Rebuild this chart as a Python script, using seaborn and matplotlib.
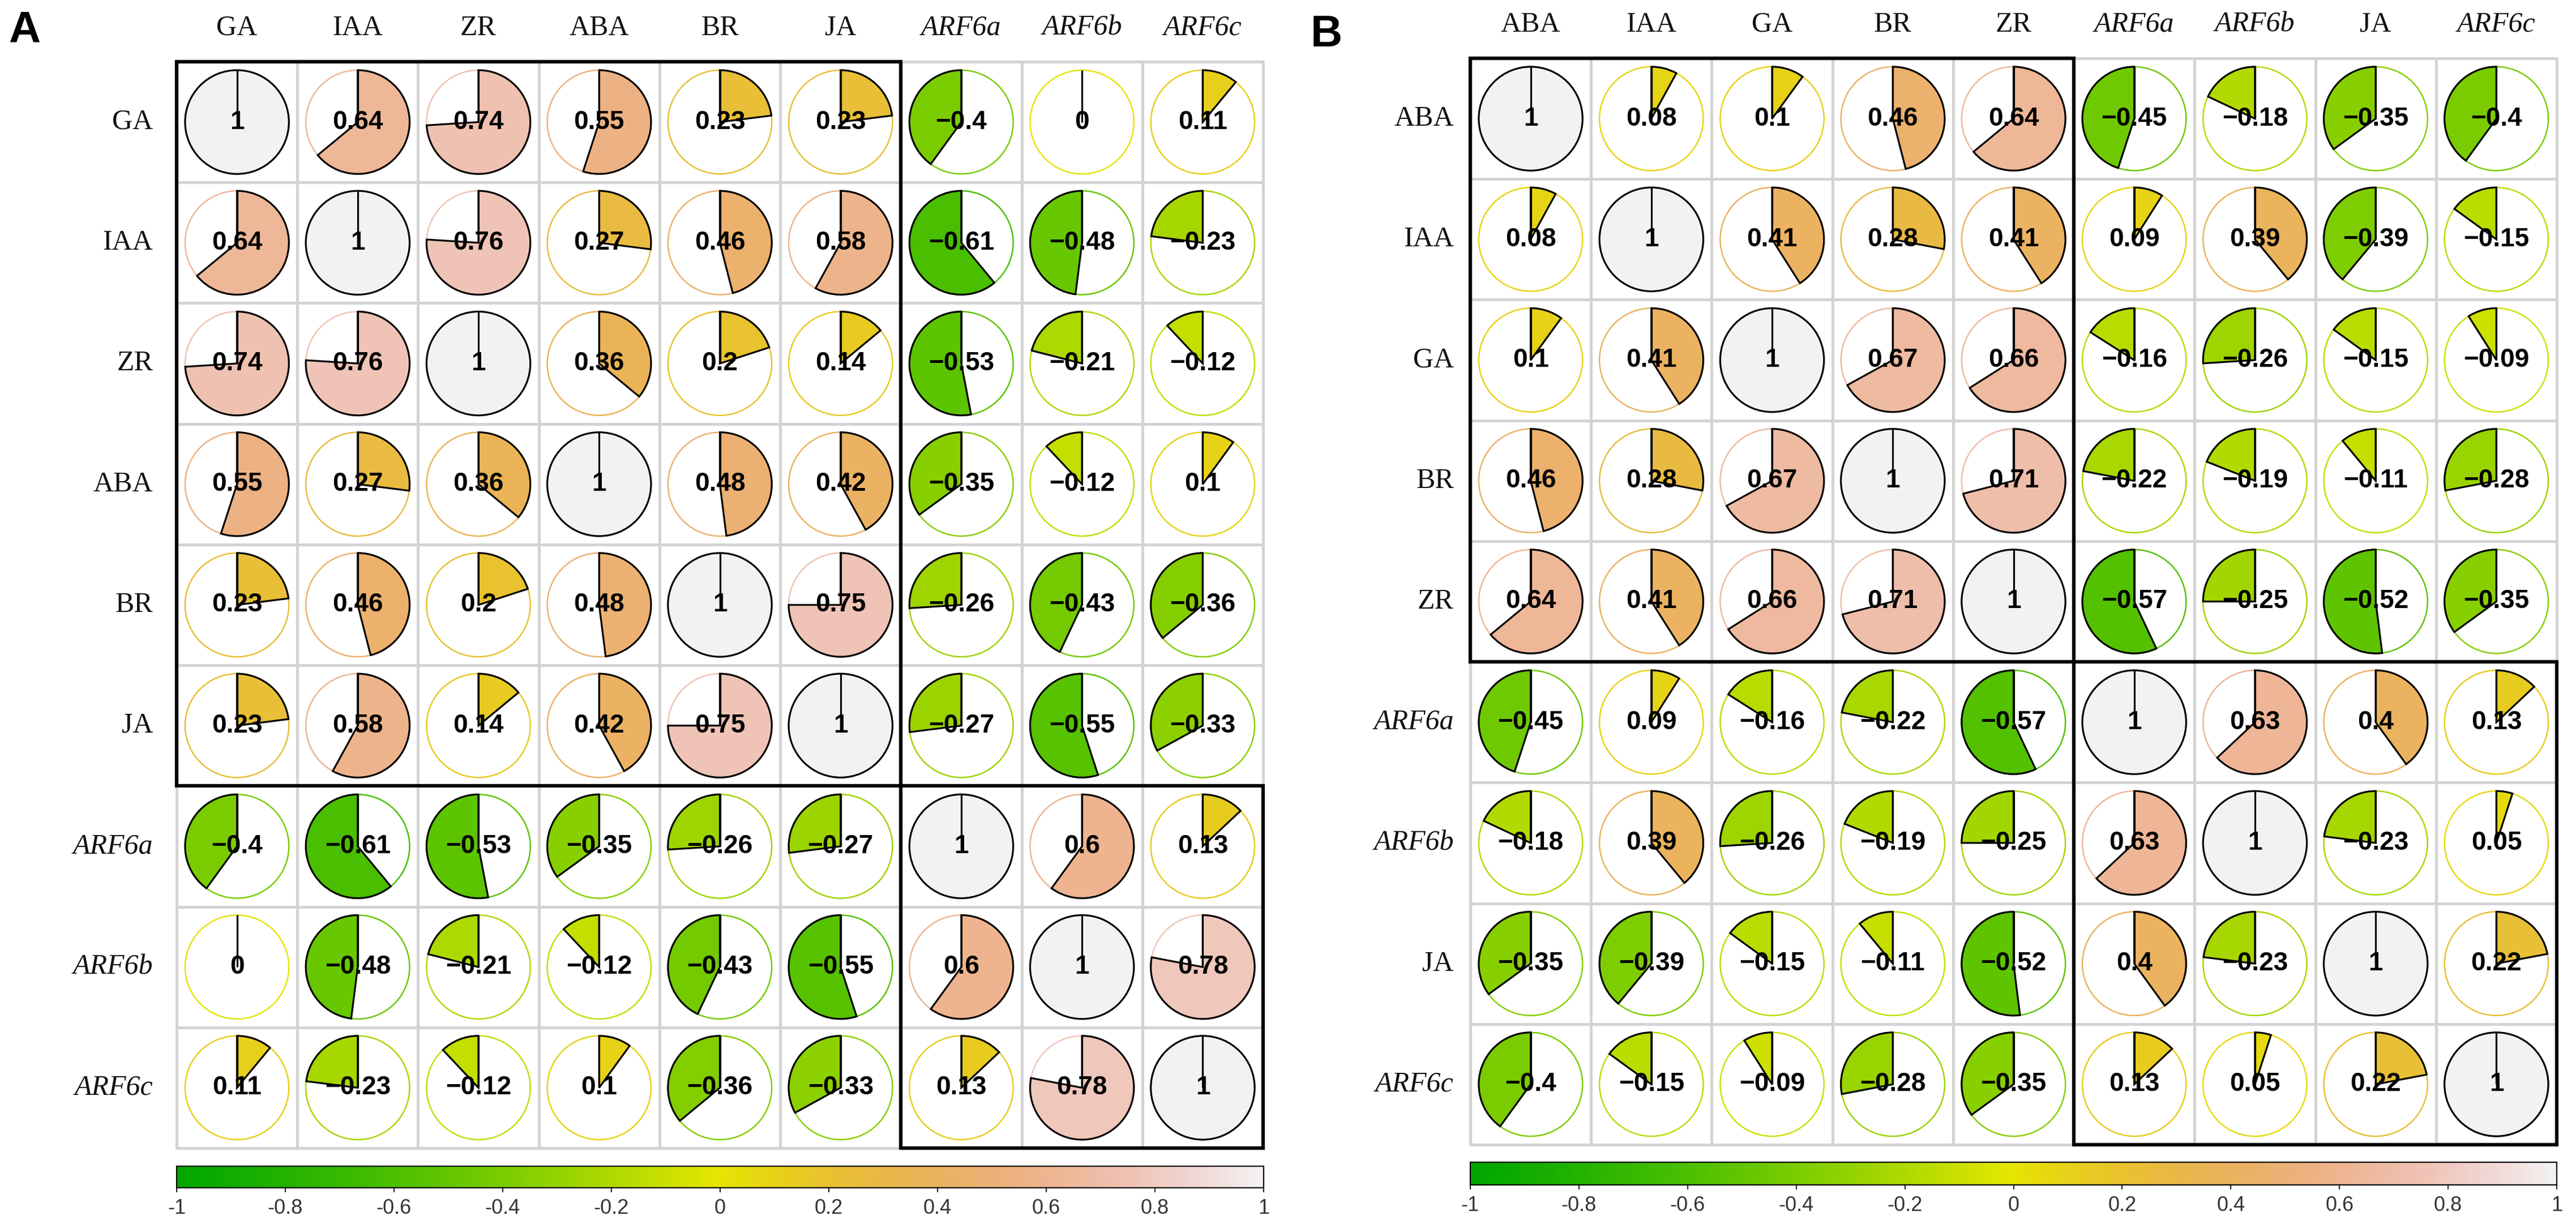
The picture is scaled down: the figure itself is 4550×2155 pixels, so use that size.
import numpy as np
import pandas as pd
import matplotlib
matplotlib.use('Agg')
import matplotlib.pyplot as plt
import seaborn as sns
from matplotlib.colors import ListedColormap, LinearSegmentedColormap, hsv_to_rgb
from matplotlib.patches import Wedge, Circle, Rectangle
import matplotlib.cm as cm

# panel A
labels_a = ['GA', 'IAA', 'ZR', 'ABA', 'BR', 'JA', 'ARF6a', 'ARF6b', 'ARF6c']
corr_a = [
    [1, 0.64, 0.74, 0.55, 0.23, 0.23, -0.4, 0, 0.11],
    [0.64, 1, 0.76, 0.27, 0.46, 0.58, -0.61, -0.48, -0.23],
    [0.74, 0.76, 1, 0.36, 0.2, 0.14, -0.53, -0.21, -0.12],
    [0.55, 0.27, 0.36, 1, 0.48, 0.42, -0.35, -0.12, 0.1],
    [0.23, 0.46, 0.2, 0.48, 1, 0.75, -0.26, -0.43, -0.36],
    [0.23, 0.58, 0.14, 0.42, 0.75, 1, -0.27, -0.55, -0.33],
    [-0.4, -0.61, -0.53, -0.35, -0.26, -0.27, 1, 0.6, 0.13],
    [0, -0.48, -0.21, -0.12, -0.43, -0.55, 0.6, 1, 0.78],
    [0.11, -0.23, -0.12, 0.1, -0.36, -0.33, 0.13, 0.78, 1],
]
clusters_a = [(0, 6), (6, 9)]

# panel B
labels_b = ['ABA', 'IAA', 'GA', 'BR', 'ZR', 'ARF6a', 'ARF6b', 'JA', 'ARF6c']
corr_b = [
    [1, 0.08, 0.1, 0.46, 0.64, -0.45, -0.18, -0.35, -0.4],
    [0.08, 1, 0.41, 0.28, 0.41, 0.09, 0.39, -0.39, -0.15],
    [0.1, 0.41, 1, 0.67, 0.66, -0.16, -0.26, -0.15, -0.09],
    [0.46, 0.28, 0.67, 1, 0.71, -0.22, -0.19, -0.11, -0.28],
    [0.64, 0.41, 0.66, 0.71, 1, -0.57, -0.25, -0.52, -0.35],
    [-0.45, 0.09, -0.16, -0.22, -0.57, 1, 0.63, 0.4, 0.13],
    [-0.18, 0.39, -0.26, -0.19, -0.25, 0.63, 1, -0.23, 0.05],
    [-0.35, -0.39, -0.15, -0.11, -0.52, 0.4, -0.23, 1, 0.22],
    [-0.4, -0.15, -0.09, -0.28, -0.35, 0.13, 0.05, 0.22, 1],
]
clusters_b = [(0, 5), (5, 9)]

cbar_ticks = [-1, -0.8, -0.6, -0.4, -0.2, 0, 0.2, 0.4, 0.6, 0.8, 1]
cbar_labels = ['-1', '-0.8', '-0.6', '-0.4', '-0.2', '0', '0.2', '0.4', '0.6', '0.8', '1']

sns.set_theme(style='white')
plt.rcParams['font.family'] = ['Liberation Sans', 'DejaVu Sans']


# same ramp as R's terrain.colors
def terrain_cmap(n=200):
    k = n // 2
    h = np.r_[np.linspace(4 / 12, 2 / 12, k), np.linspace(2 / 12, 0, n - k + 1)[1:]]
    s = np.r_[np.ones(k), np.linspace(1, 0, n - k + 1)[1:]]
    v = np.r_[np.linspace(0.65, 0.9, k), np.linspace(0.9, 0.95, n - k + 1)[1:]]
    return LinearSegmentedColormap.from_list('terrain_r', hsv_to_rgb(np.column_stack([h, s, v])))


cmap = terrain_cmap()
W, H = 4550, 2155
fig = plt.figure(figsize=(W / 100, H / 100), dpi=100)


def fmt(v):
    return ('%g' % v).replace('-', '\u2212')


def draw_panel(rect, cbar_rect, labels, corr, clusters, ypad, tag, tag_xy):
    ax = fig.add_axes(rect)
    df = pd.DataFrame(corr, index=labels, columns=labels)
    sns.heatmap(df, cmap=ListedColormap(['white']), cbar=False, linewidths=2.5,
                linecolor='#d3d3d3', square=True, ax=ax)
    ax.collections[0].set_clip_on(False)
    ax.xaxis.tick_top()
    ax.tick_params(axis='both', length=0, labelsize=36)
    ax.tick_params(axis='x', pad=26)
    ax.tick_params(axis='y', pad=ypad)
    for t in ax.get_xticklabels() + ax.get_yticklabels():
        t.set_rotation(0)
        t.set_fontfamily('Liberation Serif')
        t.set_color('#111111')
        if t.get_text().startswith('ARF'):
            t.set_fontstyle('italic')

    r = 0.43
    n = len(labels)
    for i in range(n):
        for j in range(n):
            v = df.iat[i, j]
            col = cmap((v + 1) / 2)
            x, y = j + 0.5, i + 0.5
            ax.add_patch(Circle((x, y), r, fill=False, edgecolor=col, lw=1.8, zorder=3))
            if v > 0:
                ax.add_patch(Wedge((x, y), r, -90, -90 + 360 * v, facecolor=col,
                                   edgecolor='black', lw=2.3, zorder=4))
            elif v < 0:
                ax.add_patch(Wedge((x, y), r, -90 + 360 * v, -90, facecolor=col,
                                   edgecolor='black', lw=2.3, zorder=4))
            ax.plot([x, x], [y, y - r], color='black', lw=2.3, zorder=5, solid_capstyle='butt')
            ax.text(x, y, fmt(v), ha='center', va='center', fontsize=33,
                    fontweight='bold', color='black', zorder=6)

    for s, e in clusters:
        ax.add_patch(Rectangle((s, s), e - s, e - s, fill=False, edgecolor='black',
                               lw=4.5, zorder=7, clip_on=False))

    cax = fig.add_axes(cbar_rect)
    sm = cm.ScalarMappable(norm=plt.Normalize(-1, 1), cmap=cmap)
    cb = fig.colorbar(sm, cax=cax, orientation='horizontal', ticks=cbar_ticks)
    cb.ax.set_xticklabels(cbar_labels)
    cb.outline.set_linewidth(1.6)
    cb.outline.set_edgecolor('black')
    cb.ax.tick_params(axis='x', length=6, width=1.3, labelsize=26, pad=8,
                      colors='black', labelcolor='#333333', bottom=True)
    for t in cb.ax.get_xticklabels():
        t.set_fontfamily(['Liberation Sans Narrow', 'Liberation Sans'])

    fig.text(tag_xy[0] / W, 1 - tag_xy[1] / H, tag, ha='left', va='top',
             fontsize=56, fontweight='bold', color='black')


side = 1919
draw_panel([312 / W, (H - 109 - side) / H, side / W, side / H],
           [312 / W, (H - 2098) / H, 1920 / W, 38 / H],
           labels_a, corr_a, clusters_a, 30, 'A', (15, 18))
draw_panel([2597 / W, (H - 103 - side) / H, side / W, side / H],
           [2597 / W, (H - 2093) / H, 1919 / W, 40 / H],
           labels_b, corr_b, clusters_b, 21, 'B', (2315, 25))

fig.savefig('out.png', dpi=100)
